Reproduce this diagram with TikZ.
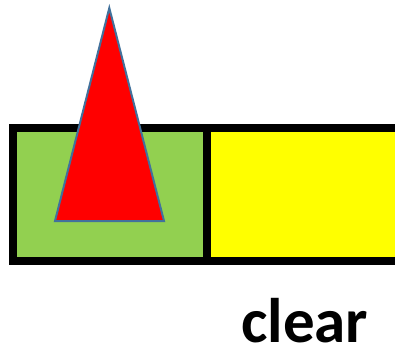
\documentclass[tikz,border=0pt]{standalone}
\usepackage{fontspec}
\setmainfont{Carlito}
\definecolor{boxgreen}{HTML}{92D050}
\definecolor{boxyellow}{HTML}{FFFF00}
\definecolor{tribord}{HTML}{41719C}
\definecolor{trired}{HTML}{FF0000}
\tikzset{
  cell/.style={draw=black, line width=8pt},
  cone/.style={fill=trired, draw=tribord, line width=2pt, line join=miter},
  lbl/.style={font=\bfseries\fontsize{63}{72}\selectfont, inner sep=0pt, anchor=base west}
}
\begin{document}
\begin{tikzpicture}[x=1pt,y=-1pt]
\useasboundingbox (0,0) rectangle (395,344);
\begin{scope}
\clip (0,0) rectangle (395,344);
\filldraw[cell, fill=boxgreen] (12.5,128) rectangle (206.7,261);
\filldraw[cell, fill=boxyellow] (206.7,128) rectangle (420,261);
\node[lbl] (clear) at (241,342) {clear};
\end{scope}
\filldraw[cone] (109.3,8) -- (164,221) -- (55,221) -- cycle;
\end{tikzpicture}
\end{document}
